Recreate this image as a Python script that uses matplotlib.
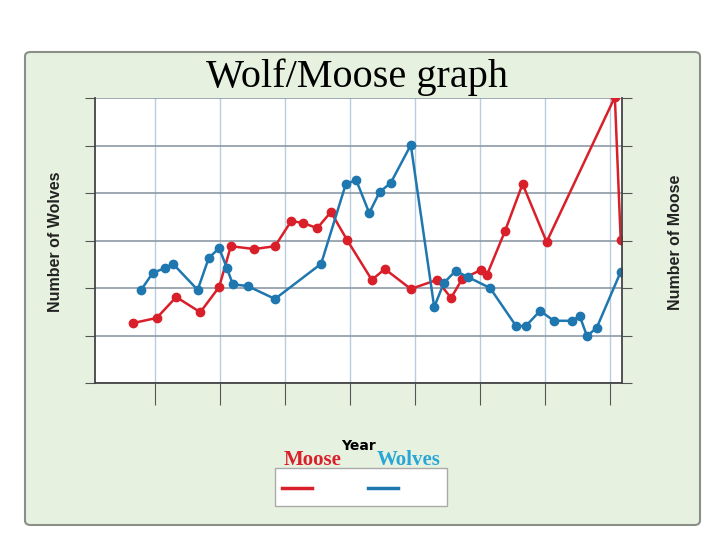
import matplotlib.pyplot as plt
from matplotlib.patches import FancyBboxPatch, Rectangle

# x in grid units, y in grid units (no tick labels on original)
moose_x = [0.58, 0.95, 1.25, 1.62, 1.91, 2.09, 2.45, 2.77, 3.02, 3.20, 3.42, 3.63, 3.88,
           4.26, 4.46, 4.86, 5.26, 5.48, 5.65, 5.94, 6.03, 6.31, 6.58, 6.95, 8.00, 8.09]
moose_y = [1.26, 1.37, 1.81, 1.49, 2.02, 2.88, 2.82, 2.88, 3.41, 3.37, 3.26, 3.60, 3.01,
           2.17, 2.40, 1.98, 2.17, 1.79, 2.19, 2.38, 2.27, 3.20, 4.19, 2.97, 6.02, 3.01]
wolf_x = [0.71, 0.89, 1.08, 1.20, 1.58, 1.75, 1.91, 2.03, 2.12, 2.35, 2.77, 3.48, 3.86,
          4.02, 4.22, 4.38, 4.55, 4.86, 5.22, 5.37, 5.55, 5.74, 6.08, 6.48, 6.63, 6.85,
          7.06, 7.34, 7.46, 7.57, 7.72, 8.09]
wolf_y = [1.96, 2.32, 2.42, 2.51, 1.96, 2.63, 2.84, 2.42, 2.08, 2.04, 1.77, 2.51, 4.19,
          4.27, 3.58, 4.02, 4.21, 5.01, 1.60, 2.11, 2.36, 2.23, 2.00, 1.20, 1.20, 1.52,
          1.31, 1.31, 1.41, 0.99, 1.16, 2.34]

red = '#d9202a'
blue = '#1f77b0'

fig = plt.figure(figsize=(7.2, 5.4), dpi=100)
fig.patch.set_facecolor('white')
fig.patches.append(FancyBboxPatch((25/720, 1-525/540), 675/720, 473/540,
                                  boxstyle='round,pad=0,rounding_size=0.008',
                                  transform=fig.transFigure, fc='#e6f2df', ec='#8a8f88',
                                  lw=1.5, zorder=-10))

ax = fig.add_axes([95/720, 1-383/540, 527/720, 285/540])
ax.set_facecolor('white')
ax.plot(moose_x, moose_y, '-o', color=red, lw=1.8, ms=6)
ax.plot(wolf_x, wolf_y, '-o', color=blue, lw=1.8, ms=6)
ax.set_xlim(0, 8.11)
ax.set_ylim(0, 6)
ax.set_xticks([0.92 + i for i in range(8)])
ax.set_yticks(range(7))
ax.grid(axis='x', color='#b8cde0', lw=1)
ax.grid(axis='y', color='#8c9aa6', lw=1.2)
ax.set_axisbelow(True)
ax.tick_params(labelleft=False, labelbottom=False, length=7, color='#555555', right=True)
ax.tick_params(axis='x', length=16)
ax.spines['top'].set_visible(False)
for s in ['left', 'right', 'bottom']:
    ax.spines[s].set_color('#444444')
    ax.spines[s].set_linewidth(1.3)

fig.text(357/720, 1-77/540, 'Wolf/Moose graph', ha='center', va='center',
         family='Liberation Serif', fontsize=29)
fig.text(56/720, 1-242/540, 'Number of Wolves', rotation=90, ha='center', va='center',
         fontsize=11.5, fontweight='heavy', color='#222222', family='Liberation Sans')
fig.text(675/720, 1-242/540, 'Number of Moose', rotation=90, ha='center', va='center',
         fontsize=11.5, fontweight='heavy', color='#222222', family='Liberation Sans')
fig.text(358/720, 1-446/540, 'Year', ha='center', va='center', fontsize=10,
         fontweight='bold', family='Liberation Sans Narrow')
fig.text(313/720, 1-460/540, 'Moose', ha='center', va='center', family='Liberation Serif',
         fontsize=15, fontweight='bold', color=red)
fig.text(409/720, 1-460/540, 'Wolves', ha='center', va='center', family='Liberation Serif',
         fontsize=15, fontweight='bold', color='#2aa6d6')
fig.patches.append(Rectangle((275/720, 1-506/540), 172/720, 38/540, transform=fig.transFigure,
                             fc='white', ec='#aaaaaa', lw=1))
fig.add_artist(plt.Line2D([282/720, 312/720], [1-488/540] * 2, color=red, lw=2.5))
fig.add_artist(plt.Line2D([368/720, 398/720], [1-488/540] * 2, color=blue, lw=2.5))

fig.savefig('out.png', dpi=100)
